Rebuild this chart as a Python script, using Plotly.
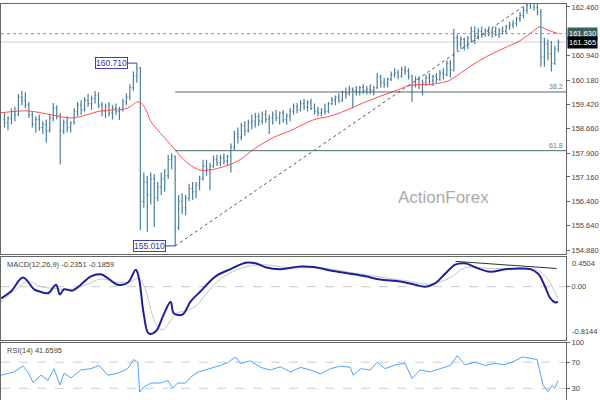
import plotly.graph_objects as go

# ---------------- data ----------------
bar_open = [158.95,158.85,159.00,159.20,159.10,159.65,159.55,159.40,159.10,158.80,
            158.95,158.70,158.80,158.60,159.00,159.30,159.05,158.60,158.85,158.70,
            158.85,159.20,159.40,159.25,159.55,159.45,159.60,159.70,159.40,159.20,
            159.35,159.15,159.30,159.20,159.25,159.50,159.65,159.95,160.30,160.55,
            156.40,157.00,156.60,157.10,156.50,156.85,157.10,157.20,157.70,157.80,
            155.60,156.40,156.20,156.50,156.80,156.70,156.90,157.10,157.50,157.40,
            157.50,157.70,157.60,157.75,157.65,157.80,158.10,158.50,158.40,158.75,
            158.60,158.85,158.90,159.05,158.90,159.10,158.95,159.00,159.10,159.00,
            159.15,158.95,159.05,159.20,159.35,159.25,159.45,159.35,159.50,159.30,
            159.20,159.15,159.25,159.20,159.45,159.55,159.65,159.55,159.80,159.75,
            159.90,159.85,159.80,159.95,159.85,159.90,159.85,159.95,160.30,160.10,
            160.05,160.20,160.35,160.40,160.30,160.50,160.45,160.30,160.00,160.20,
            160.05,160.10,160.25,160.15,160.30,160.20,160.40,160.35,160.70,160.50,
            161.50,161.30,161.45,161.25,161.50,161.70,161.55,161.70,161.60,161.75,
            161.65,161.70,161.60,161.75,161.70,161.85,161.90,161.95,162.10,162.20,
            162.35,162.50,162.60,162.45,162.30,160.90,161.30,161.00,160.70,161.15]
bar_high = [159.15,159.05,159.30,159.35,159.75,159.85,159.80,159.50,159.20,159.05,
            159.10,158.90,158.95,159.10,159.47,159.40,159.15,158.95,159.05,158.90,
            159.30,159.50,159.55,159.65,159.75,159.70,159.84,159.80,159.50,159.45,
            159.50,159.40,159.45,159.35,159.60,159.77,160.05,160.45,160.71,160.60,
            157.30,157.20,157.30,157.25,157.00,157.30,157.40,157.85,157.90,157.83,
            156.60,156.65,156.60,156.95,157.00,157.00,157.20,157.70,157.70,157.60,
            157.83,157.85,157.85,157.90,157.85,158.20,158.60,158.70,158.85,158.90,
            158.95,159.10,159.16,159.15,159.20,159.25,159.10,159.20,159.25,159.20,
            159.25,159.15,159.30,159.45,159.47,159.55,159.60,159.55,159.60,159.45,
            159.35,159.30,159.45,159.50,159.65,159.70,159.77,159.85,159.95,160.00,
            159.95,160.00,160.00,160.05,160.00,160.05,160.00,160.40,160.35,160.25,
            160.25,160.45,160.55,160.50,160.60,160.62,160.55,160.35,160.30,160.30,
            160.20,160.35,160.40,160.35,160.40,160.50,160.55,160.80,160.80,161.78,
            161.60,161.55,161.50,161.55,161.85,161.85,161.80,161.85,161.80,161.85,
            161.80,161.85,161.80,161.85,161.90,162.00,162.05,162.15,162.30,162.45,
            162.60,162.78,162.70,162.55,162.40,161.50,161.45,161.40,161.25,161.45]
bar_low = [158.70,158.62,158.80,158.90,159.05,159.40,159.30,159.00,158.70,158.55,
           158.60,158.50,158.23,158.55,158.90,158.95,157.55,158.50,158.55,158.55,
           158.80,159.05,159.10,159.20,159.35,159.25,159.45,159.30,159.05,159.00,
           159.05,158.95,159.10,158.94,159.20,159.40,159.55,159.85,160.10,155.50,
           156.20,155.45,156.30,155.60,156.40,156.60,156.70,157.10,157.40,155.01,
           155.50,156.00,155.97,156.40,156.45,156.50,156.75,157.05,157.20,156.75,
           157.45,157.50,157.50,157.55,157.50,157.30,158.00,158.20,158.30,158.45,
           158.55,158.65,158.70,158.75,158.80,158.85,158.50,158.80,158.90,158.80,
           158.85,158.80,158.90,159.10,159.15,159.20,159.25,159.20,159.25,159.10,
           159.05,159.06,159.10,159.15,159.40,159.40,159.47,159.50,159.60,159.70,
           159.30,159.70,159.70,159.75,159.72,159.75,159.70,159.90,159.95,159.95,
           159.95,160.15,160.25,160.20,160.25,160.35,160.20,159.50,159.95,159.90,
           159.70,160.00,160.05,160.00,160.10,160.15,160.20,160.30,160.25,160.45,
           161.10,161.15,161.10,161.15,161.35,161.30,161.45,161.50,161.53,161.55,
           161.50,161.55,161.50,161.60,161.65,161.75,161.80,161.85,162.00,162.10,
           162.25,162.40,162.35,162.20,160.60,160.60,160.80,160.45,160.65,161.05]
bar_close = [158.85,159.00,159.20,159.10,159.65,159.55,159.40,159.10,158.80,158.95,
             158.70,158.80,158.60,159.00,159.30,159.05,158.60,158.85,158.70,158.85,
             159.20,159.40,159.25,159.55,159.45,159.60,159.70,159.40,159.20,159.35,
             159.15,159.30,159.20,159.25,159.50,159.65,159.95,160.30,160.55,156.40,
             157.00,156.60,157.10,156.50,156.85,157.10,157.20,157.70,157.80,155.60,
             156.40,156.20,156.50,156.80,156.70,156.90,157.10,157.50,157.40,157.50,
             157.70,157.60,157.75,157.65,157.80,158.10,158.50,158.40,158.75,158.60,
             158.85,158.90,159.05,158.90,159.10,158.95,159.00,159.10,159.00,159.15,
             158.95,159.05,159.20,159.35,159.25,159.45,159.35,159.50,159.30,159.20,
             159.15,159.25,159.20,159.45,159.55,159.65,159.55,159.80,159.75,159.90,
             159.85,159.80,159.95,159.85,159.90,159.85,159.95,160.30,160.10,160.05,
             160.20,160.35,160.40,160.30,160.50,160.45,160.30,160.00,160.20,160.05,
             160.10,160.25,160.15,160.30,160.20,160.40,160.35,160.70,160.50,161.50,
             161.30,161.45,161.25,161.50,161.70,161.55,161.70,161.60,161.75,161.65,
             161.70,161.60,161.75,161.70,161.85,161.90,161.95,162.10,162.20,162.35,
             162.50,162.60,162.45,162.30,160.90,161.30,161.00,160.70,161.15,161.365]
bar_index = list(range(len(bar_close)))

ma_x = [-1, 6.7, 13.3, 19.0, 22.0, 27.7, 31.4, 35.4, 38.3, 40.0, 42.0, 44.0, 47.7, 51.4,
        55.4, 58.3, 64.0, 67.8, 71.5, 77.2, 82.0, 88.7, 93.6, 98.4, 103.0, 107.9, 112.8,
        116.5, 122.2, 127.0, 128.8, 133.7, 138.5, 143.1, 148.0, 150.9, 153.7, 155.7, 158.9]
ma_y = [159.16, 159.22, 159.10, 159.00, 159.05, 159.22, 159.25, 159.31, 159.50, 159.37,
        158.90, 158.62, 158.17, 157.71, 157.40, 157.37, 157.52, 157.71, 158.02, 158.39,
        158.60, 158.94, 159.06, 159.25, 159.47, 159.68, 159.87, 160.02, 160.05, 160.14,
        160.24, 160.61, 160.92, 161.16, 161.41, 161.63, 161.84, 161.75, 161.63]

macd_x = [-1, 1.9, 5.3, 8.5, 9.9, 12.5, 14.8, 15.9, 17.1, 19.6, 21.9, 24.8, 27.7, 29.7,
          32.5, 35.4, 37.7, 38.6, 40.0, 41.4, 43.4, 45.7, 47.7, 48.6, 51.1, 53.4, 56.3,
          60.6, 64.9, 69.2, 72.1, 74.9, 79.2, 85.0, 89.3, 93.6, 99.3, 103.6, 107.9, 113.6,
          117.9, 120.8, 123.6, 126.5, 129.4, 132.2, 135.1, 139.4, 143.7, 148.0, 150.9,
          153.2, 155.2, 156.6, 158.0, 158.9]
macd_y = [-0.18, -0.07, 0.14, -0.04, -0.07, -0.10, 0.03, -0.12, -0.04, -0.06, 0.03, 0.16,
          0.19, 0.13, 0.03, 0.06, 0.26, 0.13, -0.43, -0.72, -0.69, -0.43, -0.23, -0.41,
          -0.43, -0.23, -0.07, 0.16, 0.27, 0.37, 0.36, 0.30, 0.27, 0.31, 0.30, 0.25, 0.20,
          0.16, 0.11, 0.08, 0.03, 0.00, 0.05, 0.20, 0.34, 0.36, 0.30, 0.23, 0.27, 0.28,
          0.27, 0.20, 0.00, -0.17, -0.24, -0.2351]
signal_x = [-1, 3.3, 6.7, 10.5, 14.8, 19.1, 23.4, 27.7, 32.0, 36.2, 38.5, 40.5, 42.0,
            44.0, 45.7, 47.7, 49.7, 52.0, 54.9, 57.7, 62.0, 67.8, 73.5, 82.1, 90.7, 99.3,
            107.9, 116.5, 122.2, 128.0, 132.2, 139.4, 148.0, 152.3, 155.2, 158.9]
signal_y = [-0.23, -0.04, 0.08, 0.00, -0.03, -0.04, 0.03, 0.12, 0.07, 0.08, 0.13, -0.05,
            -0.35, -0.62, -0.66, -0.52, -0.40, -0.37, -0.30, -0.12, 0.12, 0.28, 0.34, 0.29,
            0.29, 0.22, 0.15, 0.08, 0.04, 0.14, 0.29, 0.28, 0.27, 0.27, 0.17, -0.1859]

rsi_x = [-1, 1.0, 2.7, 5.3, 6.7, 8.2, 10.5, 12.5, 14.2, 15.9, 17.1, 19.1, 21.9, 24.8,
         27.1, 29.7, 32.5, 35.4, 37.1, 38.3, 38.8, 40.0, 42.0, 44.8, 46.9, 48.3, 49.7,
         52.0, 53.4, 55.7, 59.2, 62.0, 64.3, 66.3, 67.8, 70.6, 73.5, 76.4, 79.2, 82.1,
         85.0, 87.8, 90.7, 93.6, 96.4, 99.3, 100.1, 102.2, 105.0, 107.0, 109.3, 112.2,
         115.0, 117.0, 119.3, 122.2, 125.1, 128.0, 130.0, 132.2, 135.1, 138.0, 140.8,
         143.7, 146.6, 148.6, 150.9, 152.9, 154.6, 156.0, 157.2, 158.0, 158.9]
rsi_y = [50, 53, 55, 64, 55, 39, 50, 42, 60, 35, 53, 46, 58, 60, 65, 50, 53, 60, 74, 70,
         24, 32, 38, 38, 42, 30, 38, 38, 47, 55, 60, 65, 70, 78, 68, 72, 62, 58, 63, 55,
         62, 58, 52, 60, 64, 62, 50, 60, 58, 70, 60, 66, 68, 45, 58, 55, 60, 65, 80, 66,
         70, 65, 68, 66, 72, 78, 76, 74, 35, 25, 34, 30, 41.6595]

price_ticks = [162.46, 160.94, 160.18, 159.42, 158.66, 157.90, 157.16, 156.40, 155.64, 154.88]
price_tick_text = ["162.460", "160.940", "160.180", "159.420", "158.660",
                   "157.900", "157.160", "156.400", "155.640", "154.880"]
swing_high_bar, swing_high = 38, 160.71
swing_low_bar, swing_low = 49, 155.01
fib_382, fib_618 = 159.81, 157.98
resistance = 161.63
last_price = 161.365
trend_end_bar, trend_end = 153, 162.78
macd_trend_x = [129.5, 158.5]
macd_trend_y = [0.39, 0.28]
macd_last, signal_last = -0.2351, -0.1859
macd_max, macd_min = 0.4504, -0.8144
rsi_last = 41.6595

# ---------------- styling ----------------
BAR = "#4a7e9f"
FONT = "Liberation Sans"
AXIS = "#666666"
X_RANGE = [-1, 161.2]

fig = go.Figure()
fig.add_trace(go.Ohlc(x=bar_index, open=bar_open, high=bar_high, low=bar_low, close=bar_close,
                      increasing_line_color=BAR, decreasing_line_color=BAR, line_width=1.2,
                      tickwidth=0.3, xaxis="x", yaxis="y", showlegend=False, hoverinfo="skip"))
fig.add_trace(go.Scatter(x=ma_x, y=ma_y, mode="lines", line=dict(color="#ff4d4d", width=1, shape="spline"),
                         xaxis="x", yaxis="y", showlegend=False, hoverinfo="skip"))
fig.add_trace(go.Scatter(x=signal_x, y=signal_y, mode="lines", line=dict(color="#c4c4c4", width=1, shape="spline"),
                         xaxis="x2", yaxis="y2", showlegend=False, hoverinfo="skip"))
fig.add_trace(go.Scatter(x=macd_x, y=macd_y, mode="lines", line=dict(color="#1f1f9e", width=2, shape="spline"),
                         xaxis="x2", yaxis="y2", showlegend=False, hoverinfo="skip"))
fig.add_trace(go.Scatter(x=macd_trend_x, y=macd_trend_y, mode="lines", line=dict(color="#333333", width=1),
                         xaxis="x2", yaxis="y2", showlegend=False, hoverinfo="skip"))
fig.add_trace(go.Scatter(x=rsi_x, y=rsi_y, mode="lines", line=dict(color="#4aa3ff", width=1),
                         xaxis="x3", yaxis="y3", showlegend=False, hoverinfo="skip"))

xcommon = dict(range=X_RANGE, showticklabels=False, showgrid=False, zeroline=False,
               showline=True, mirror=True, linecolor=AXIS, linewidth=1, ticks="")
ycommon = dict(side="right", showgrid=False, zeroline=False, showline=True, mirror=True,
               linecolor=AXIS, linewidth=1, ticks="outside", ticklen=3, tickcolor=AXIS,
               tickfont=dict(family=FONT, size=7.5, color="#444444"))

fig.update_layout(
    width=600, height=400, margin=dict(l=1, r=34, t=0, b=0),
    paper_bgcolor="white", plot_bgcolor="white", showlegend=False,
    xaxis=dict(domain=[0, 1], anchor="y", rangeslider=dict(visible=False), **xcommon),
    xaxis2=dict(domain=[0, 1], anchor="y2", matches="x", **xcommon),
    xaxis3=dict(domain=[0, 1], anchor="y3", matches="x", **xcommon),
    yaxis=dict(domain=[0.3675, 1], anchor="x", range=[154.744, 162.553],
               tickvals=price_ticks, ticktext=price_tick_text, **ycommon),
    yaxis2=dict(domain=[0.1525, 0.36], anchor="x2", range=[macd_min, macd_max],
                tickvals=[0], ticktext=["0.00"], **ycommon),
    yaxis3=dict(domain=[0, 0.145], anchor="x3", range=[12, 100],
                tickvals=[100, 70, 30], ticktext=["100", "70", "30"], **ycommon),
)

shapes = [
    dict(type="line", xref="x domain", yref="y", x0=0, x1=1, y0=last_price, y1=last_price,
         line=dict(color="#d0d0d0", width=1), layer="below"),
    dict(type="line", xref="x domain", yref="y", x0=0, x1=1, y0=resistance, y1=resistance,
         line=dict(color="#7f9c9c", width=1, dash="dot")),
    dict(type="line", xref="x", yref="y", x0=swing_low_bar, x1=X_RANGE[1], y0=fib_382, y1=fib_382,
         line=dict(color="#4d6b6b", width=1)),
    dict(type="line", xref="x", yref="y", x0=swing_low_bar, x1=X_RANGE[1], y0=fib_618, y1=fib_618,
         line=dict(color="#4d6b6b", width=1)),
    dict(type="line", xref="x", yref="y", x0=swing_low_bar, x1=trend_end_bar, y0=swing_low, y1=trend_end,
         line=dict(color="#555555", width=1, dash="dot")),
    dict(type="line", xref="x2 domain", yref="y2", x0=0, x1=1, y0=0, y1=0,
         line=dict(color="#c8c8c8", width=1, dash="dash"), layer="below"),
    dict(type="line", xref="x3 domain", yref="y3", x0=0, x1=1, y0=70, y1=70,
         line=dict(color="#cccccc", width=1, dash="dash"), layer="below"),
    dict(type="line", xref="x3 domain", yref="y3", x0=0, x1=1, y0=30, y1=30,
         line=dict(color="#cccccc", width=1, dash="dash"), layer="below"),
]
fig.update_layout(shapes=shapes)

small = dict(family=FONT, size=7.5, color="#444444")
box_font = dict(family=FONT, size=8.5, color="#3434a8")
annotations = [
    dict(x=swing_high_bar, y=swing_high, xref="x", yref="y", text=f"{swing_high:.3f}",
         showarrow=True, arrowhead=0, arrowcolor="#4040b0", arrowwidth=1, ax=-25, ay=0,
         font=box_font, bgcolor="white", bordercolor="#4040b0", borderwidth=1, borderpad=0),
    dict(x=swing_low_bar, y=swing_low, xref="x", yref="y", text=f"{swing_low:.3f}",
         showarrow=True, arrowhead=0, arrowcolor="#4040b0", arrowwidth=1, ax=-26, ay=0,
         font=box_font, bgcolor="white", bordercolor="#4040b0", borderwidth=1, borderpad=0),
    dict(x=1, y=resistance, xref="paper", yref="y", text=f"{resistance:.3f}", showarrow=False,
         xanchor="left", yanchor="middle", xshift=1, font=dict(family=FONT, size=7.5, color="white"),
         bgcolor="#3f5e5e", borderpad=1),
    dict(x=1, y=last_price, xref="paper", yref="y", text=f"{last_price:.3f}", showarrow=False,
         xanchor="left", yanchor="middle", xshift=1, font=dict(family=FONT, size=7.5, color="white"),
         bgcolor="black", borderpad=1),
    dict(x=1, y=fib_382, xref="paper", yref="y", text="38.2", showarrow=False,
         xanchor="right", yanchor="bottom", xshift=-1, font=dict(family=FONT, size=7, color="#777777")),
    dict(x=1, y=fib_618, xref="paper", yref="y", text="61.8", showarrow=False,
         xanchor="right", yanchor="bottom", xshift=-1, font=dict(family=FONT, size=7, color="#777777")),
    dict(x=126, y=156.53, xref="x", yref="y", text="ActionForex", showarrow=False,
         font=dict(family=FONT, size=17, color="#aaaaaa")),
    dict(x=0, y=macd_max, xref="paper", yref="y2", text=f"MACD(12,26,9) {macd_last:.4f} {signal_last:.4f}",
         showarrow=False, xanchor="left", yanchor="top", xshift=4, yshift=-1, font=small),
    dict(x=1, y=macd_max, xref="paper", yref="y2", text=f"{macd_max:.4f}", showarrow=False,
         xanchor="left", yanchor="top", xshift=4, font=small),
    dict(x=1, y=macd_min, xref="paper", yref="y2", text=f"{macd_min:.4f}", showarrow=False,
         xanchor="left", yanchor="bottom", xshift=4, yshift=2, font=small),
    dict(x=0, y=100, xref="paper", yref="y3", text=f"RSI(14) {rsi_last:.4f}",
         showarrow=False, xanchor="left", yanchor="top", xshift=4, yshift=-1, font=small),
]
fig.update_layout(annotations=annotations)

fig.write_html("out.html")
